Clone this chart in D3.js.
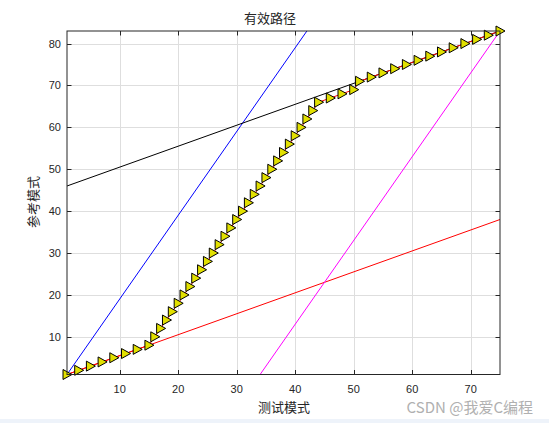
<!DOCTYPE html>
<html>
<head>
<meta charset="utf-8">
<script src="https://cdn.jsdelivr.net/npm/d3@7/dist/d3.min.js"></script>
<style>
  html, body { margin: 0; padding: 0; background: #fff; }
  svg { display: block; }
  text { font-family: "Liberation Sans", Arial, Helvetica, sans-serif; }
  .cjk { font-family: "Noto Sans CJK SC", "Noto Sans", sans-serif; }
</style>
</head>
<body>
<script>
// ---- data ----
const title = "有效路径";
const xLabel = "测试模式";
const yLabel = "参考模式";
const watermark = "CSDN @我爱C编程";

const xDomain = [1, 75];
const yDomain = [1, 83];
const xTicks = [10, 20, 30, 40, 50, 60, 70];
const yTicks = [10, 20, 30, 40, 50, 60, 70, 80];

// warping path (test index, reference index)
const pathX = [1, 3, 5, 7, 9, 11, 13, 15,
  16, 17, 18, 19, 20, 21, 22, 23, 24, 25, 26, 27, 28, 29, 30, 31, 32, 33, 34, 35, 36, 37, 38, 39, 40, 41, 42, 43, 44,
  46, 48, 50, 51, 53, 55, 57, 59, 61, 63, 65, 67, 69, 71, 73, 75];
const pathY = [1, 2, 3, 4, 5, 6, 7, 8,
  10, 12, 14, 16, 18, 20, 22, 24, 26, 28, 30, 32, 34, 36, 38, 40, 42, 44, 46, 48, 50, 52, 54, 56, 58, 60, 62, 64, 66,
  67, 68, 69, 71, 72, 73, 74, 75, 76, 77, 78, 79, 80, 81, 82, 83];

// constraint (parallelogram) lines: endpoints
const lineNames = ["red", "blue", "black", "magenta"];
const lineX = [[1, 75], [1, 42], [1, 75], [34, 75]];
const lineY = [[1, 38], [1, 83], [46, 83], [1, 83]];
const lineColors = ["#ff0000", "#0000ff", "#000000", "#ff00ff"];

// ---- layout ----
const W = 549, H = 423;
const L = 67, R = 500, T = 31, B = 374.5;

const svg = d3.select("body").append("svg").attr("width", W).attr("height", H);

// bottom light band
svg.append("rect").attr("x", 0).attr("y", 419).attr("width", W).attr("height", 4).attr("fill", "#eef3fa");

const x = d3.scaleLinear().domain(xDomain).range([L, R]);
const y = d3.scaleLinear().domain(yDomain).range([B, T]);

// grid
const grid = svg.append("g").attr("stroke", "#dedede").attr("stroke-width", 1);
xTicks.forEach(t => grid.append("line").attr("x1", Math.round(x(t)) + 0.5).attr("x2", Math.round(x(t)) + 0.5).attr("y1", T).attr("y2", B));
yTicks.forEach(t => grid.append("line").attr("y1", Math.round(y(t)) + 0.5).attr("y2", Math.round(y(t)) + 0.5).attr("x1", L).attr("x2", R));

// clip
svg.append("clipPath").attr("id", "clip").append("rect").attr("x", L).attr("y", T).attr("width", R - L).attr("height", B - T);

const plot = svg.append("g").attr("clip-path", "url(#clip)");

// constraint lines
lineNames.forEach((n, i) => {
  const pts = lineX[i].map((v, j) => [x(v), y(lineY[i][j])]);
  plot.append("path").attr("d", d3.line()(pts)).attr("fill", "none")
    .attr("stroke", lineColors[i]).attr("stroke-width", 1);
});

// path line
const pathPts = pathX.map((v, i) => [x(v), y(pathY[i])]);
svg.append("path").attr("d", d3.line()(pathPts)).attr("fill", "none")
  .attr("stroke", "#ff0000").attr("stroke-width", 1);

// markers (right-pointing triangles)
svg.append("g").selectAll("path").data(pathPts).join("path")
  .attr("d", d => `M${d[0] - 4},${d[1] - 5}L${d[0] - 4},${d[1] + 5}L${d[0] + 5},${d[1]}Z`)
  .attr("fill", "#e2e000").attr("stroke", "#000").attr("stroke-width", 1);

// axes box
svg.append("rect").attr("x", L).attr("y", T).attr("width", R - L).attr("height", B - T)
  .attr("fill", "none").attr("stroke", "#262626").attr("stroke-width", 1);

// ticks (inward, on all four sides)
const tk = svg.append("g").attr("stroke", "#262626").attr("stroke-width", 1);
xTicks.forEach(t => {
  const px = Math.round(x(t)) + 0.5;
  tk.append("line").attr("x1", px).attr("x2", px).attr("y1", B).attr("y2", B - 4.5);
  tk.append("line").attr("x1", px).attr("x2", px).attr("y1", T).attr("y2", T + 4.5);
});
yTicks.forEach(t => {
  const py = Math.round(y(t)) + 0.5;
  tk.append("line").attr("x1", L).attr("x2", L + 4.5).attr("y1", py).attr("y2", py);
  tk.append("line").attr("x1", R).attr("x2", R - 4.5).attr("y1", py).attr("y2", py);
});

// tick labels
svg.append("g").selectAll("text").data(xTicks).join("text")
  .attr("x", d => x(d)).attr("y", B + 18).attr("text-anchor", "middle")
  .attr("font-size", 11).attr("fill", "#262626").text(d => d);
svg.append("g").selectAll("text").data(yTicks).join("text")
  .attr("x", L - 6).attr("y", d => y(d) + 4).attr("text-anchor", "end")
  .attr("font-size", 11).attr("fill", "#262626").text(d => d);

// title and labels
svg.append("text").attr("class", "cjk").attr("x", 270).attr("y", 23).attr("text-anchor", "middle")
  .attr("font-size", 13).attr("fill", "#262626").text(title);
svg.append("text").attr("class", "cjk").attr("x", 284).attr("y", 412).attr("text-anchor", "middle")
  .attr("font-size", 13).attr("fill", "#262626").text(xLabel);
svg.append("text").attr("class", "cjk").attr("transform", "translate(38,202) rotate(-90)")
  .attr("text-anchor", "middle").attr("font-size", 13).attr("fill", "#262626").text(yLabel);

// watermark
svg.append("text").attr("class", "cjk").attr("x", 533).attr("y", 413).attr("text-anchor", "end")
  .attr("font-size", 15).attr("fill", "#b0b0b0").text(watermark);
</script>
</body>
</html>
